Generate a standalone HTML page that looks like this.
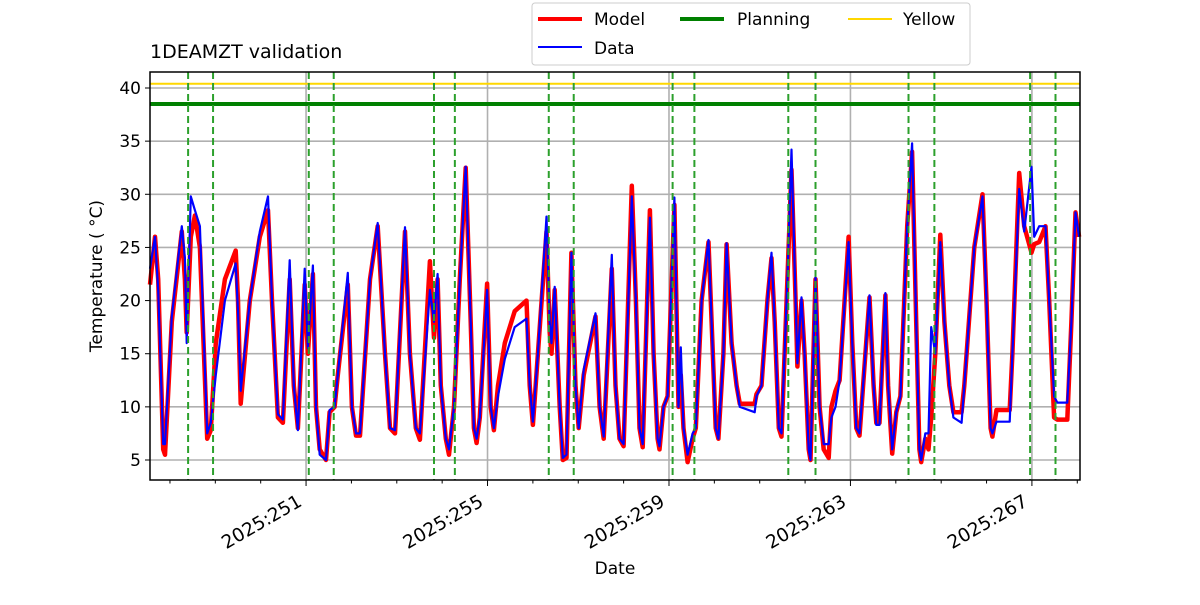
<!DOCTYPE html>
<html><head><meta charset="utf-8"><style>
body{margin:0;background:#fff;font-family:"Liberation Sans","DejaVu Sans",sans-serif;}
svg text{font-family:"DejaVu Sans","Liberation Sans",sans-serif;}
</style></head><body>
<svg id="chart" width="1200" height="600" xmlns="http://www.w3.org/2000/svg">
<rect width="1200" height="600" fill="#fff"/>
<g id="grid"></g><g id="marks"></g><g id="axes"></g>
<text x="150" y="58" font-size="19">1DEAMZT validation</text>
<text x="615" y="574" font-size="17" text-anchor="middle">Date</text>
<text transform="translate(102,276) rotate(-90)" font-size="17" text-anchor="middle">Temperature ( °C)</text>
<g>
<rect x="532" y="3" width="438" height="62" rx="3" fill="#fff" stroke="#ccc"/>
<line x1="538" y1="19" x2="582" y2="19" stroke="red" stroke-width="4"/>
<text x="594" y="25" font-size="17">Model</text>
<line x1="538" y1="47" x2="582" y2="47" stroke="blue" stroke-width="2"/>
<text x="594" y="54" font-size="17">Data</text>
<line x1="680" y1="19" x2="724" y2="19" stroke="green" stroke-width="4"/>
<text x="737" y="25" font-size="17">Planning</text>
<line x1="848" y1="19" x2="892" y2="19" stroke="gold" stroke-width="2"/>
<text x="903" y="25" font-size="17">Yellow</text>
</g>
</svg>
<script>
const times=[247.56,247.67,247.74,247.85,247.89,248.04,248.26,248.33,248.37,248.46,248.55,248.66,248.82,248.90,249.01,249.21,249.45,249.50,249.56,249.76,249.98,250.16,250.25,250.38,250.49,250.64,250.73,250.82,250.97,251.04,251.15,251.22,251.30,251.44,251.52,251.63,251.70,251.92,252.01,252.10,252.19,252.41,252.58,252.74,252.85,252.96,253.18,253.29,253.42,253.51,253.73,253.82,253.90,253.97,254.08,254.15,254.26,254.39,254.52,254.63,254.70,254.76,254.83,254.99,255.07,255.14,255.23,255.38,255.60,255.86,255.93,256.00,256.11,256.30,256.37,256.41,256.48,256.59,256.66,256.74,256.85,256.94,257.01,257.12,257.38,257.47,257.56,257.74,257.82,257.91,258.00,258.18,258.27,258.35,258.42,258.58,258.66,258.75,258.79,258.88,258.97,259.12,259.21,259.26,259.32,259.41,259.52,259.59,259.72,259.87,259.94,260.03,260.09,260.20,260.27,260.38,260.49,260.56,260.89,260.93,261.04,261.17,261.26,261.33,261.42,261.48,261.61,261.70,261.79,261.83,261.92,261.99,262.08,262.12,262.23,262.32,262.41,262.52,262.58,262.67,262.76,262.96,263.04,263.13,263.20,263.33,263.42,263.51,263.57,263.64,263.77,263.83,263.92,264.01,264.10,264.25,264.36,264.45,264.52,264.56,264.65,264.72,264.78,264.87,264.98,265.07,265.18,265.27,265.45,265.51,265.73,265.91,266.00,266.09,266.13,266.22,266.51,266.57,266.72,266.83,266.99,267.05,267.16,267.30,267.38,267.49,267.56,267.78,267.87,267.96,268.04];
const model=[21.5,26,22,6,5.5,18,26.5,22,17,26,28,25,7,7.8,16,22,24.7,20,10.3,20,26,28.5,20,9,8.5,22,12,8,21.5,15,22.5,10,6,5,9.5,10,13,21.5,10,7.3,7.3,22,27,15,8,7.5,26.5,15,8,6.9,23.7,16.5,22,12,7,5.5,10,22,32.5,18,8,6.6,9,21.6,10,7.8,12,16,19,20,12,8.3,15,26.5,17,15,21,10,5,5.2,24.5,12,8,13,18.5,10,7,23,12,7,6.3,30.8,20,8,6.2,28.5,15,7,6,10,11,29,10,13,8,4.8,7,8,20,25.5,18,8,7,15,25.3,16,12,10.3,10.3,11.2,12,20,24,18,8,7.2,22,32.3,20,13.8,20,15,6,5,22,10,6,5.2,10,11.5,12.5,26,16,8,7.3,15,20.3,12,8.5,8.5,20.5,12,5.6,9.5,11,27,34,18,6,4.8,7,6,9,15,26.2,18,12,9.5,9.5,12,25,30,20,8,7.2,9.7,9.7,15,32,27,24.5,25.3,25.5,27,20,9,8.8,8.8,18,28.3,26];
const data=[23,26,21,6.5,6.5,18.5,27,24,16,29.8,28.5,27,7.5,8.5,13,20,23.5,19,11.5,20,26.5,29.8,20,9.3,8.8,23.8,12,7.8,23,15.5,23.3,10,5.5,5,9.7,10,13,22.6,10,7.5,7.5,22,27.3,15,8,7.8,26.9,15,8,7.5,21,18,22.5,12,7,6,10,22,32.6,18,8,7,9,21,10,8,11,14.5,17.5,18.3,12,8.6,15,27.9,18,16,21.3,10,5.2,5.5,24.5,12,8,13.5,18.8,10,7.2,24.3,12,7,6.5,29.8,20,8,6.5,27.8,15,7,6.3,10,11,29.7,10,15.6,8,5.5,7.5,8,20,25.7,18,8,7,15,25.4,16,12,10,9.5,11,12,20,24.5,18,8,7.5,22,34.2,20,14.1,20.3,15,6,5,22.2,10,6.5,6.5,9,10,12.5,25.5,16,8,7.5,15,20.5,12,8.3,8.3,20.7,12,6,9.5,11,27,34.8,18,6,5,7.5,7.5,17.5,15,25.5,18,12,9,8.5,12,25,29.8,20,8,7.5,8.6,8.6,15,30.5,26.5,32.6,26,27,27,20,11,10.4,10.4,18,28.3,26];
const yTicks=[5,10,15,20,25,30,35,40];
const xTickDays=[251,255,259,263,267];
const xTickLabels=["2025:251","2025:255","2025:259","2025:263","2025:267"];
const planDays=[248.40,248.95,251.06,251.61,253.82,254.28,256.35,256.90,259.08,259.56,261.63,262.23,264.28,264.85,266.96,267.52];
const planningLimit=[38.5];
const yellowLimit=[40.4];

const L=150,R=1080,T=72,B=480;
const X0=247.56,X1=268.06;
const xs=d=>L+(d-X0)/(X1-X0)*(R-L);
const ys=v=>460-(v-5)*(372/35);
const NS="http://www.w3.org/2000/svg";
function mk(tag,attrs,parent){const e=document.createElementNS(NS,tag);for(const k in attrs)e.setAttribute(k,attrs[k]);parent.appendChild(e);return e;}
const grid=document.getElementById('grid'),marks=document.getElementById('marks'),axes=document.getElementById('axes');
yTicks.forEach(v=>{
 const l=mk('line',{x1:L,x2:R,y1:ys(v),y2:ys(v),stroke:'#b0b0b0','stroke-width':1.6},grid);
 
 
 mk('line',{x1:L-5,x2:L,y1:ys(v),y2:ys(v),stroke:'#000','stroke-width':1},axes);
 const t=mk('text',{x:L-9,y:ys(v)+6,'font-size':17,'text-anchor':'end'},axes);t.textContent=v;
 
 
});
xTickDays.forEach((d,i)=>{
 const l=mk('line',{x1:xs(d),x2:xs(d),y1:T,y2:B,stroke:'#b0b0b0','stroke-width':1.6},grid);
 
 
 mk('line',{x1:xs(d),x2:xs(d),y1:B,y2:B+6,stroke:'#000','stroke-width':1},axes);
 const t=mk('text',{x:0,y:0,'font-size':18.5,'text-anchor':'end',transform:`translate(${xs(d)-3},${B+25}) rotate(-30)`},axes);
 t.textContent=xTickLabels[i];
 
 
});
for(let d=248;d<=268;d++){if(!xTickDays.includes(d))mk('line',{x1:xs(d),x2:xs(d),y1:B,y2:B+3.5,stroke:'#000','stroke-width':1},axes);}
const pl=mk('line',{x1:L,x2:R,y1:ys(planningLimit[0]),y2:ys(planningLimit[0]),stroke:'green','stroke-width':4},marks);


const yl=mk('line',{x1:L,x2:R,y1:ys(yellowLimit[0]),y2:ys(yellowLimit[0]),stroke:'gold','stroke-width':2},marks);


function path(vals,color,w,name){
 const d=times.map((t,i)=>(i?'L':'M')+xs(t).toFixed(1)+','+ys(vals[i]).toFixed(1)).join('');
 const p=mk('path',{d:d,fill:'none',stroke:color,'stroke-width':w,'stroke-linejoin':'round'},marks);
 
 
}
path(model,'red',4.5,'model-series');
path(data,'blue',2.2,'data-series');
planDays.forEach(d=>{
 const l=mk('line',{x1:xs(d),x2:xs(d),y1:T,y2:B,stroke:'#2ca02c','stroke-width':2,'stroke-dasharray':'7,4'},marks);
 
 
});
const fr=mk('rect',{x:L,y:T,width:R-L,height:B-T,fill:'none',stroke:'#000','stroke-width':1.5},axes);


</script>
</body></html>
